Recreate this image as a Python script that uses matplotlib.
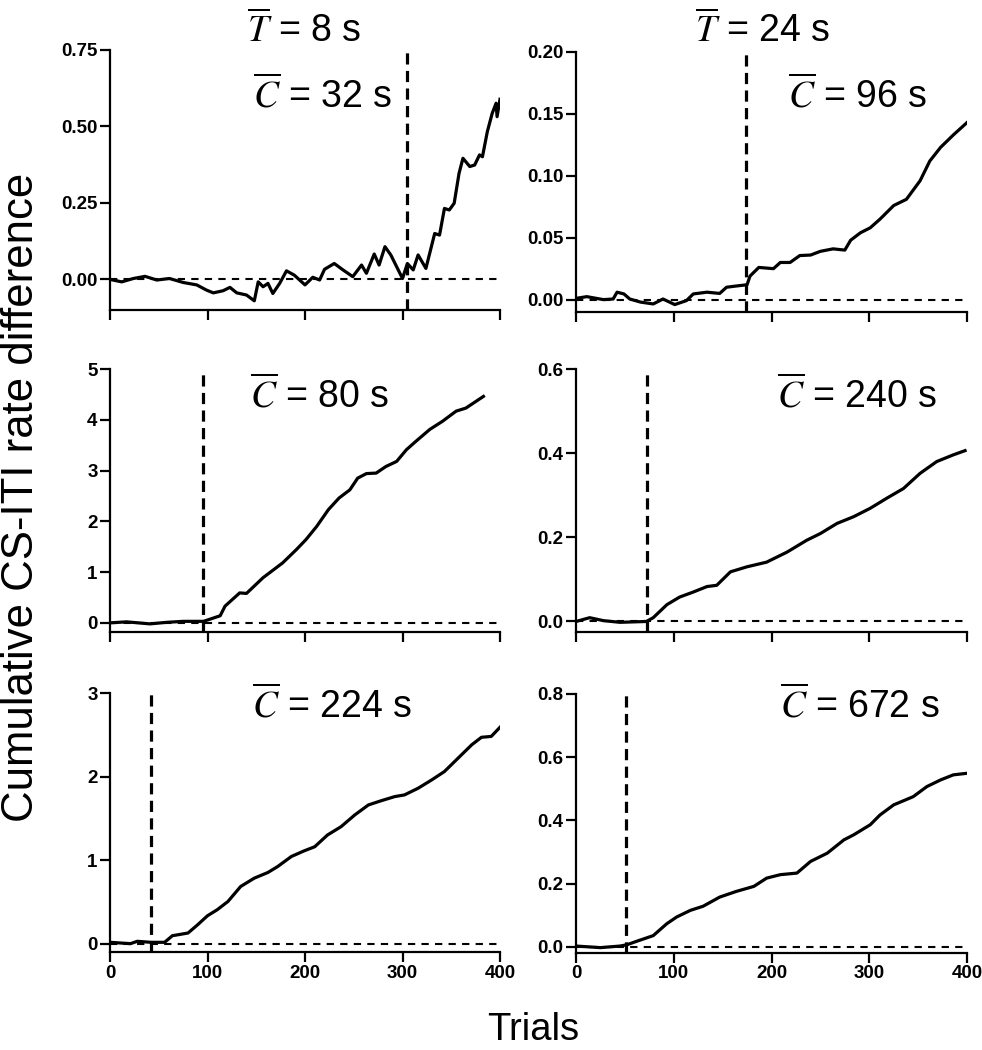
import matplotlib
matplotlib.use("Agg")
import matplotlib.pyplot as plt

plt.rcParams["font.family"] = ["Liberation Sans", "DejaVu Sans"]
plt.rcParams["mathtext.fontset"] = "stix"

# ---- data (trial, cumulative CS-ITI rate difference) ----
t_a = [0, 12, 24, 36, 48, 61, 75, 89, 99, 106, 116, 123, 130, 140, 148, 152, 157, 162, 167,
       174, 181, 189, 200, 208, 215, 220, 230, 239, 249, 258, 263, 271, 276, 282, 288, 300,
       305, 311, 316, 324, 333, 338, 343, 348, 353, 358, 362, 369, 374, 379, 382, 387, 392,
       396, 397, 400]
y_a = [0.0, -0.008, 0.003, 0.01, -0.002, 0.003, -0.01, -0.018, -0.035, -0.044, -0.037,
       -0.026, -0.044, -0.051, -0.07, -0.008, -0.024, -0.013, -0.046, -0.013, 0.028, 0.014,
       -0.018, 0.007, -0.002, 0.033, 0.052, 0.031, 0.009, 0.047, 0.02, 0.083, 0.047, 0.107,
       0.08, 0.003, 0.052, 0.031, 0.08, 0.036, 0.15, 0.145, 0.232, 0.227, 0.249, 0.347, 0.396,
       0.369, 0.374, 0.407, 0.401, 0.483, 0.543, 0.576, 0.532, 0.589]

t_b = [0, 11, 28, 38, 42, 49, 55, 66, 79, 89, 101, 113, 120, 134, 147, 154, 164, 175, 178,
       187, 202, 209, 219, 229, 240, 250, 263, 275, 281, 291, 301, 311, 325, 338, 352, 362,
       373, 386, 400]
y_b = [0.001, 0.0024, 0.0, 0.0005, 0.006, 0.0046, 0.0005, -0.002, -0.0035, 0.0005, -0.004,
       -0.0008, 0.0046, 0.006, 0.005, 0.01, 0.011, 0.012, 0.019, 0.026, 0.025, 0.03, 0.03,
       0.0356, 0.036, 0.039, 0.041, 0.040, 0.048, 0.054, 0.058, 0.065, 0.076, 0.081, 0.096,
       0.112, 0.123, 0.133, 0.143]

t_c = [0, 17, 41, 58, 75, 96, 113, 118, 133, 140, 157, 177, 191, 201, 212, 224, 235, 246,
       254, 263, 273, 283, 294, 304, 314, 328, 341, 355, 365, 383]
y_c = [0.0, 0.02, -0.02, 0.01, 0.03, 0.03, 0.14, 0.33, 0.59, 0.58, 0.89, 1.18, 1.44, 1.64,
       1.90, 2.23, 2.46, 2.62, 2.85, 2.94, 2.95, 3.08, 3.18, 3.41, 3.58, 3.81, 3.97, 4.17,
       4.23, 4.46]

t_d = [0, 14, 28, 45, 72, 79, 93, 106, 120, 134, 144, 158, 175, 195, 216, 236, 250, 267,
       284, 301, 318, 335, 352, 369, 386, 398]
y_d = [0.0, 0.009, 0.002, -0.002, 0.0, 0.009, 0.04, 0.058, 0.07, 0.083, 0.086, 0.118, 0.13,
       0.141, 0.165, 0.193, 0.209, 0.233, 0.249, 0.269, 0.293, 0.316, 0.352, 0.38, 0.396,
       0.406]

t_e = [0, 21, 28, 42, 56, 64, 80, 90, 100, 110, 121, 134, 148, 162, 172, 186, 199, 210,
       223, 237, 251, 265, 278, 292, 302, 316, 330, 343, 357, 371, 381, 391, 400]
y_e = [0.016, 0.0, 0.028, 0.016, 0.016, 0.095, 0.127, 0.227, 0.334, 0.406, 0.505, 0.684,
       0.784, 0.852, 0.923, 1.043, 1.11, 1.16, 1.30, 1.40, 1.54, 1.66, 1.71, 1.76, 1.78,
       1.86, 1.96, 2.06, 2.22, 2.38, 2.47, 2.48, 2.59]

t_f = [0, 25, 45, 52, 62, 79, 93, 103, 117, 130, 147, 164, 182, 195, 209, 226, 240, 257,
       274, 284, 301, 311, 325, 345, 359, 373, 386, 400]
y_f = [0.002, -0.003, 0.002, 0.006, 0.017, 0.035, 0.073, 0.094, 0.115, 0.128, 0.157, 0.175,
       0.191, 0.217, 0.228, 0.233, 0.27, 0.296, 0.338, 0.354, 0.386, 0.417, 0.449, 0.475,
       0.507, 0.528, 0.544, 0.549]

change_points = [305, 174, 95, 73, 42, 51]
c_labels = [r"$\overline{C}$ = 32 s", r"$\overline{C}$ = 96 s", r"$\overline{C}$ = 80 s",
            r"$\overline{C}$ = 240 s", r"$\overline{C}$ = 224 s", r"$\overline{C}$ = 672 s"]
t_labels = [r"$\overline{T}$ = 8 s", r"$\overline{T}$ = 24 s"]
y_limits = [(-0.1, 0.75), (-0.01, 0.2), (-0.18, 5), (-0.025, 0.6), (-0.1, 3), (-0.02, 0.8)]
y_ticks = [[0.0, 0.25, 0.5, 0.75], [0.0, 0.05, 0.10, 0.15, 0.20], [0, 1, 2, 3, 4, 5],
           [0.0, 0.2, 0.4, 0.6], [0, 1, 2, 3], [0.0, 0.2, 0.4, 0.6, 0.8]]
y_fmt = ["{:.2f}", "{:.2f}", "{:.0f}", "{:.1f}", "{:.0f}", "{:.1f}"]
series = [(t_a, y_a), (t_b, y_b), (t_c, y_c), (t_d, y_d), (t_e, y_e), (t_f, y_f)]

W, H = 982, 1050
# axes boxes in pixels: left, top, right, bottom
boxes = [(110, 50, 500, 310), (576, 52, 967, 312),
         (110, 369, 500, 632), (576, 369, 967, 632),
         (110, 693, 500, 952), (576, 694, 967, 953)]
# annotation anchors (left x, baseline y) in pixels
c_pos = [(253, 107), (788, 107), (250, 407), (777, 407), (252, 717), (780, 717)]
t_pos = [(247, 42), (695, 42)]


def fx(x):
    return x / W


def fy(y):
    return 1 - y / H


fig = plt.figure(figsize=(W / 100, H / 100), dpi=100)

for i, (l, t, r, b) in enumerate(boxes):
    ax = fig.add_axes([fx(l), fy(b), fx(r - l), (b - t) / H])
    tr, yr = series[i]
    ax.axhline(0, color="black", lw=1.5, ls=(0, (3.5, 3)), zorder=1)
    ax.plot(tr, yr, color="black", lw=2.3, zorder=3)
    ax.axvline(change_points[i], color="black", lw=2.3, ls=(0, (3.5, 2)), zorder=2,
               clip_on=False)
    ax.set_xlim(0, 400)
    ax.set_ylim(*y_limits[i])
    ax.set_xticks([0, 100, 200, 300, 400])
    ax.set_yticks(y_ticks[i])
    ax.set_yticklabels([y_fmt[i].format(v) for v in y_ticks[i]])
    if i < 4:
        ax.set_xticklabels([])
    for s in ("top", "right"):
        ax.spines[s].set_visible(False)
    for s in ("left", "bottom"):
        ax.spines[s].set_linewidth(1.6)
    ax.tick_params(direction="out", length=7, width=1.6, labelsize=13.5, pad=2)
    for lab in ax.get_xticklabels() + ax.get_yticklabels():
        lab.set_fontweight("bold")
    fig.text(fx(c_pos[i][0]), fy(c_pos[i][1]), c_labels[i], fontsize=27,
             ha="left", va="baseline")

for (x, y), s in zip(t_pos, t_labels):
    fig.text(fx(x), fy(y), s, fontsize=27, ha="left", va="baseline")

fig.text(fx(22), fy(497), "Cumulative CS-ITI rate difference", fontsize=31.5,
         rotation=90, ha="center", va="center")
fig.text(fx(533), fy(1040), "Trials", fontsize=27.5, ha="center", va="baseline")

fig.savefig("out.png", dpi=100)
